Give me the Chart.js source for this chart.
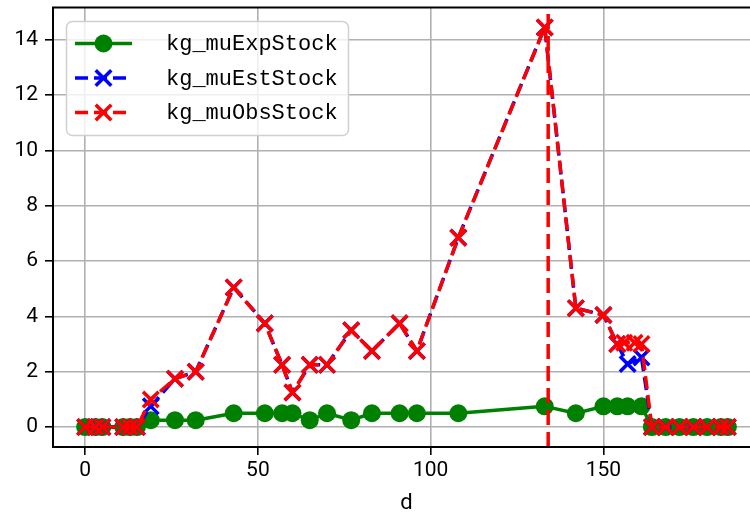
<!DOCTYPE html>
<html>
<head>
<meta charset="utf-8">
<script src="https://cdn.jsdelivr.net/npm/chart.js@4.4.1/dist/chart.umd.min.js"></script>
<style>
html, body { margin: 0; padding: 0; background: #fff; overflow: hidden; }
#wrap { width: 780px; height: 524px; margin-top: -7px; }
</style>
</head>
<body>
<div id="wrap"><canvas id="chart" width="780" height="524"></canvas></div>
<script>
// 数据
const days = [0, 3, 5, 11, 13, 15, 19, 26, 32, 43, 52, 57, 60, 65, 70, 77, 83, 91, 96, 108,
              133, 142, 150, 154, 156, 157, 159, 161, 164, 168, 172, 176, 180, 184, 186];
const expStock = [0, 0, 0, 0, 0, 0, 0.25, 0.25, 0.25, 0.5, 0.5, 0.5, 0.5, 0.25, 0.5, 0.25, 0.5, 0.5, 0.5, 0.5,
                  0.75, 0.5, 0.75, 0.75, null, 0.75, null, 0.75, 0, 0, 0, 0, 0, 0, 0];
const estStock = [0, 0, 0, 0, 0, 0, 0.75, 1.75, 2.0, 5.05, 3.75, 2.25, 1.25, 2.25, 2.25, 3.5, 2.75, 3.75, 2.75, 6.85,
                  14.45, 4.3, 4.05, 3.0, null, 2.28, null, 2.52, 0, 0, 0, 0, 0, 0, 0];
const obsStock = [0, 0, 0, 0, 0, 0, 1.0, 1.75, 2.0, 5.05, 3.75, 2.25, 1.25, 2.25, 2.25, 3.5, 2.75, 3.75, 2.75, 6.85,
                  14.45, 4.3, 4.05, 3.0, 3.05, null, 3.05, 3.0, 0, 0, 0, 0, 0, 0, 0];
const markerDay = [134];
const seriesNames = ['kg_muExpStock', 'kg_muEstStock', 'kg_muObsStock'];
const xTicks = [0, 50, 100, 150];
const yTicks = [0, 2, 4, 6, 8, 10, 12, 14];

const xMin = -9.3, xMax = 195.3;
const yMin = -0.72, yMax = 15.17;

function toPoints(vals) {
    return days.map((d, i) => ({x: d, y: vals[i]}));
}

// 图例 (画布整体上移了 7px)
const legendBox = {
    id: 'legendBox',
    afterDraw(chart) {
        const ctx = chart.ctx;
        ctx.save();
        ctx.translate(0, 7);
        ctx.beginPath();
        ctx.roundRect(66.5, 21.5, 282, 114, 6);
        ctx.fillStyle = 'rgba(255,255,255,0.8)';
        ctx.fill();
        ctx.strokeStyle = '#d0d0d0';
        ctx.lineWidth = 1.5;
        ctx.stroke();

        const rows = [43.5, 78, 112.5];
        for (let i = 0; i < 3; i++) {
            const ds = chart.data.datasets[i];
            const y = rows[i];
            ctx.beginPath();
            ctx.setLineDash(ds.borderDash || []);
            ctx.lineWidth = ds.borderWidth;
            ctx.strokeStyle = ds.borderColor;
            ctx.moveTo(75, y);
            ctx.lineTo(132, y);
            ctx.stroke();
            ctx.setLineDash([]);
            ctx.fillStyle = ds.pointBackgroundColor;
            ctx.strokeStyle = ds.pointBorderColor;
            ctx.lineWidth = ds.pointBorderWidth;
            Chart.helpers.drawPoint(ctx, {
                pointStyle: ds.pointStyle,
                radius: ds.pointRadius,
                borderWidth: ds.pointBorderWidth,
                rotation: 0
            }, 103.5, y);
            ctx.fillStyle = '#000';
            ctx.font = '22px "Liberation Mono", "DejaVu Sans Mono", monospace';
            ctx.textBaseline = 'middle';
            ctx.fillText(seriesNames[i], 166, y + 1);
        }
        ctx.restore();
    }
};

// 边框
const frame = {
    id: 'frame',
    afterDatasetsDraw(chart) {
        const a = chart.chartArea;
        const ctx = chart.ctx;
        ctx.save();
        ctx.strokeStyle = '#000';
        ctx.lineWidth = 2;
        ctx.strokeRect(a.left, a.top, a.right - a.left, a.bottom - a.top);
        ctx.restore();
    }
};

function noPad(s) {
    s.paddingTop = 0;
    s.paddingBottom = 0;
    s.paddingLeft = 0;
    s.paddingRight = 0;
}

const gridOpts = {
    color: '#b0b0b0',
    lineWidth: 1.6,
    tickColor: '#000',
    tickLength: 8
};

new Chart(document.getElementById('chart'), {
    type: 'line',
    data: {
        datasets: [{
            label: seriesNames[0],
            data: toPoints(expStock),
            borderColor: '#008000',
            backgroundColor: '#008000',
            borderWidth: 3.5,
            pointStyle: 'circle',
            pointRadius: 9,
            pointBorderWidth: 0,
            pointBackgroundColor: '#008000',
            pointBorderColor: '#008000',
            order: 4
        }, {
            label: seriesNames[1],
            data: toPoints(estStock),
            borderColor: '#0000ff',
            borderWidth: 3.5,
            borderDash: [13, 6],
            pointStyle: 'crossRot',
            pointRadius: 11,
            pointBorderWidth: 3.5,
            pointBackgroundColor: '#0000ff',
            pointBorderColor: '#0000ff',
            order: 3
        }, {
            label: seriesNames[2],
            data: toPoints(obsStock),
            borderColor: '#ff0000',
            borderWidth: 3.5,
            borderDash: [13, 6],
            pointStyle: 'crossRot',
            pointRadius: 11,
            pointBorderWidth: 3.5,
            pointBackgroundColor: '#ff0000',
            pointBorderColor: '#ff0000',
            order: 2
        }, {
            label: 'marker',
            data: [{x: markerDay[0], y: yMin}, {x: markerDay[0], y: yMax}],
            borderColor: '#ff0000',
            borderWidth: 3.5,
            borderDash: [15, 7],
            pointRadius: 0,
            order: 1
        }]
    },
    options: {
        responsive: false,
        animation: false,
        devicePixelRatio: 1,
        spanGaps: true,
        elements: {
            line: { tension: 0, borderJoinStyle: 'round', fill: false }
        },
        layout: { padding: { left: 0, top: 7, right: 20, bottom: 0 } },
        plugins: {
            legend: { display: false },
            tooltip: { enabled: false }
        },
        scales: {
            x: {
                type: 'linear',
                min: xMin,
                max: xMax,
                afterBuildTicks: s => { s.ticks = xTicks.map(v => ({value: v})); },
                afterFit: s => { s.height = 70; noPad(s); },
                grid: gridOpts,
                border: { display: false },
                ticks: {
                    color: '#000',
                    font: { family: 'Roboto', size: 21 },
                    padding: 3,
                    maxRotation: 0,
                    autoSkip: false
                },
                title: {
                    display: true,
                    text: 'd',
                    color: '#000',
                    font: { family: 'Roboto', size: 22 },
                    padding: 0
                }
            },
            y: {
                type: 'linear',
                min: yMin,
                max: yMax,
                afterBuildTicks: s => { s.ticks = yTicks.map(v => ({value: v})); },
                afterFit: s => { s.width = 53; noPad(s); },
                grid: gridOpts,
                border: { display: false },
                ticks: {
                    color: '#000',
                    font: { family: 'Roboto', size: 21, lineHeight: 0.6 },
                    padding: 7,
                    autoSkip: false
                }
            }
        }
    },
    plugins: [frame, legendBox]
});
</script>
</body>
</html>
